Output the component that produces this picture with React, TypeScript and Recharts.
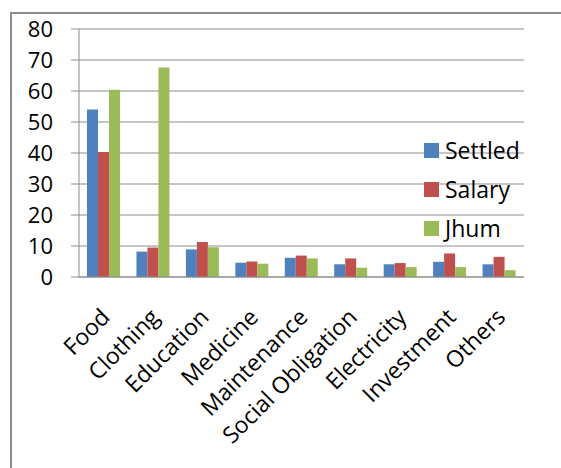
import React from 'react';
import { BarChart, Bar, XAxis, YAxis, CartesianGrid } from 'recharts';

const categories = ['Food', 'Clothing', 'Education', 'Medicine', 'Maintenance', 'Social Obligation', 'Electricity', 'Investment', 'Others'];
const settled = [54, 8.2, 8.9, 4.6, 6.2, 4.1, 4.1, 4.9, 4.1];
const salary = [40.3, 9.5, 11.3, 5.0, 6.9, 6.0, 4.5, 7.6, 6.5];
const jhum = [60.4, 67.6, 9.6, 4.3, 6.0, 3.0, 3.2, 3.2, 2.2];
const yTicks = [0, 10, 20, 30, 40, 50, 60, 70, 80];
const edgeTicks = [0, 1, 2, 3, 4, 5, 6, 7, 8, 9];

const series = [
  { key: 'Settled', color: '#4F81BD' },
  { key: 'Salary', color: '#C0504D' },
  { key: 'Jhum', color: '#9BBB59' },
];

const data = categories.map((name, i) => ({
  name,
  Settled: settled[i],
  Salary: salary[i],
  Jhum: jhum[i],
}));

const FONT = '"Open Sans", sans-serif';
const GRID = '#8c8c8c';

const LegendBox = () => (
  <div style={{ position: 'absolute', left: 424, top: 131, fontFamily: FONT, fontSize: 23, color: '#000', lineHeight: 1 }}>
    {series.map((s) => (
      <div key={s.key} style={{ display: 'flex', alignItems: 'center', height: 39 }}>
        <span style={{ width: 15, height: 15, background: s.color, marginRight: 6, display: 'inline-block' }} />
        <span>{s.key}</span>
      </div>
    ))}
  </div>
);

export default function App() {
  return (
    <div style={{ position: 'absolute', left: 0, top: 0, width: 561, height: 468, background: '#fff', overflow: 'hidden' }}>
      <div
        style={{
          position: 'absolute',
          left: 10,
          top: 12,
          width: 600,
          height: 500,
          borderTop: `2px solid ${GRID}`,
          borderLeft: `2px solid ${GRID}`,
        }}
      />
      <BarChart
        width={561}
        height={468}
        data={data}
        margin={{ top: 29, right: 37, bottom: 0, left: 0 }}
        barGap={0}
        barSize={11}
        style={{ position: 'absolute', left: 0, top: 0, fontFamily: FONT }}
      >
        <CartesianGrid vertical={false} stroke={GRID} />
        <XAxis
          xAxisId="edges"
          type="number"
          domain={[0, 9]}
          ticks={edgeTicks}
          height={0}
          axisLine={false}
          tickLine={{ stroke: GRID }}
          tickSize={8}
          tickFormatter={() => ''}
        />
        <XAxis
          dataKey="name"
          height={191}
          interval={0}
          tickLine={false}
          axisLine={{ stroke: GRID }}
          angle={-45}
          textAnchor="end"
          tick={{ fontSize: 23, fill: '#000', fontFamily: FONT, dx: -4 }}
          tickMargin={24}
        />
        <YAxis
          width={79}
          domain={[0, 80]}
          ticks={yTicks}
          interval={0}
          axisLine={{ stroke: GRID }}
          tickLine={{ stroke: GRID }}
          tickSize={8}
          tickMargin={18}
          tick={{ fontSize: 22, fill: '#000', fontFamily: FONT }}
        />
        {series.map((s) => (
          <Bar key={s.key} dataKey={s.key} fill={s.color} isAnimationActive={false} />
        ))}
      </BarChart>
      <LegendBox />
    </div>
  );
}
